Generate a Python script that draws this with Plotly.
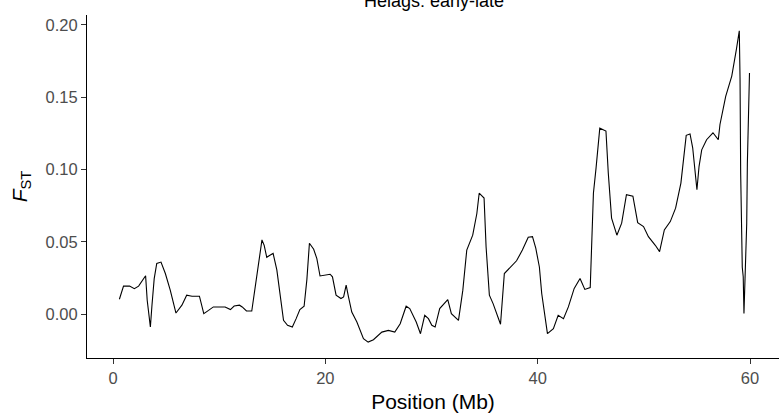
import plotly.graph_objects as go

# Position (Mb) and FST values
position_mb = [
    0.60, 0.99, 1.56, 2.01, 2.41, 2.71, 3.07, 3.22, 3.52, 3.67, 3.88, 4.12, 4.52, 4.93,
    5.39, 5.93, 6.49, 6.94, 7.44, 8.14, 8.55, 9.00, 9.45, 10.56, 11.06, 11.41, 11.91,
    12.17, 12.57, 13.07, 13.37, 13.67, 14.03, 14.24, 14.48, 14.74, 15.08, 15.43, 15.75,
    16.06, 16.44, 16.89, 17.25, 17.60, 18.00, 18.26, 18.50, 18.90, 19.20, 19.50,
    20.45, 20.67, 21.01, 21.47, 21.72, 21.96, 22.18, 22.49, 22.97, 23.28, 23.59, 24.03,
    24.53, 25.32, 25.94, 26.54, 27.05, 27.61, 27.95, 28.56, 28.96, 29.36, 29.71, 30.03,
    30.34, 30.77, 31.17, 31.53, 31.87, 32.54, 32.95, 33.32, 33.88, 34.27, 34.49, 34.95,
    35.14, 35.45, 35.80, 36.50, 36.86, 37.24, 38.01, 38.56, 39.11, 39.51, 39.82, 40.16,
    40.38, 40.92, 41.48, 41.93, 42.43, 42.89, 43.44, 43.99, 44.44, 44.95, 45.25, 45.50,
    45.85, 46.43, 46.65, 46.96, 47.46, 47.91, 48.36, 48.97, 49.42, 49.97, 50.43, 51.08,
    51.48, 51.93, 52.49, 52.99, 53.49, 53.99, 54.35, 54.60, 54.80, 55.00, 55.20, 55.45,
    55.91, 56.51, 57.01, 57.17, 57.71, 58.28, 58.72, 58.99, 59.06, 59.12, 59.27, 59.36,
    59.43, 59.53, 59.69, 59.75, 59.88, 59.95,
]
fst = [
    0.0104, 0.0195, 0.0195, 0.0177, 0.0195, 0.0225, 0.0267, 0.0097, -0.0088, 0.0063,
    0.0247, 0.0352, 0.0361, 0.0282, 0.0167, 0.0009, 0.0063, 0.0132, 0.0125, 0.0125,
    0.0005, 0.0027, 0.0051, 0.0051, 0.0033, 0.0057, 0.0063, 0.0051, 0.0023, 0.0023,
    0.0187, 0.0327, 0.0514, 0.0477, 0.0394, 0.0407, 0.0421, 0.0307, 0.0144, -0.0042,
    -0.0076, -0.0088, -0.0030, 0.0033, 0.0056, 0.0240, 0.0491, 0.0450, 0.0385, 0.0265,
    0.0277, 0.0259, 0.0132, 0.0109, 0.0120, 0.0201, 0.0120, 0.0016, -0.0053, -0.0111,
    -0.0169, -0.0192, -0.0176, -0.0123, -0.0111, -0.0123, -0.0065, 0.0056, 0.0040,
    -0.0053, -0.0134, -0.0007, -0.0030, -0.0076, -0.0088, 0.0040, 0.0074, 0.0102,
    0.0005, -0.0042, 0.0167, 0.0444, 0.0547, 0.0697, 0.0837, 0.0804, 0.0467, 0.0132,
    0.0074, -0.0069, 0.0282, 0.0310, 0.0370, 0.0444, 0.0533, 0.0537, 0.0457, 0.0327,
    0.0144, -0.0134, -0.0099, -0.0007, -0.0030, 0.0051, 0.0179, 0.0247, 0.0172, 0.0185,
    0.0837, 0.1012, 0.1287, 0.1267, 0.0977, 0.0665, 0.0547, 0.0630, 0.0827, 0.0817,
    0.0634, 0.0607, 0.0537, 0.0477, 0.0433, 0.0583, 0.0641, 0.0734, 0.0907, 0.1237,
    0.1247, 0.1151, 0.1000, 0.0861, 0.1023, 0.1137, 0.1207, 0.1255, 0.1207, 0.1312,
    0.1507, 0.1647, 0.1833, 0.1960, 0.1626, 0.0976, 0.0325, 0.0260, 0.0005, 0.0215,
    0.0630, 0.1040, 0.1400, 0.1668,
]

x_ticks = [0, 20, 40, 60]
y_ticks = [0.00, 0.05, 0.10, 0.15, 0.20]
y_tick_labels = ["0.00", "0.05", "0.10", "0.15", "0.20"]

FONT = "Liberation Sans, Arial, sans-serif"

fig = go.Figure()
fig.add_trace(go.Scatter(
    x=position_mb, y=fst, mode="lines",
    line=dict(color="black", width=1.1),
    showlegend=False, hoverinfo="skip",
))

axis_common = dict(
    showline=True, linecolor="black", linewidth=1.1,
    ticks="outside", ticklen=5, tickwidth=1.1, tickcolor="#333333",
    tickfont=dict(family=FONT, size=16.5, color="#4D4D4D"),
    showgrid=False, zeroline=False,
)

fig.update_layout(
    width=779, height=416,
    margin=dict(l=87, r=0, t=15, b=58),
    plot_bgcolor="white", paper_bgcolor="white",
    font=dict(family=FONT, color="black"),
    xaxis=dict(
        range=[-2.45, 62.73], tickvals=x_ticks,
        title=dict(text="Position (Mb)", font=dict(family=FONT, size=21, color="black"), standoff=8),
        **axis_common,
    ),
    yaxis=dict(
        range=[-0.0302, 0.2069], tickvals=y_ticks, ticktext=y_tick_labels,
        title=dict(text="<i>F</i><sub>ST</sub>", font=dict(family=FONT, size=21, color="black"), standoff=12),
        **axis_common,
    ),
    annotations=[dict(
        text="Helags: early-late", xref="paper", yref="paper",
        x=0.5014, y=1.0408, xanchor="center", yanchor="middle",
        showarrow=False, font=dict(family=FONT, size=18, color="black"),
    )],
)

fig.write_html("out.html")
